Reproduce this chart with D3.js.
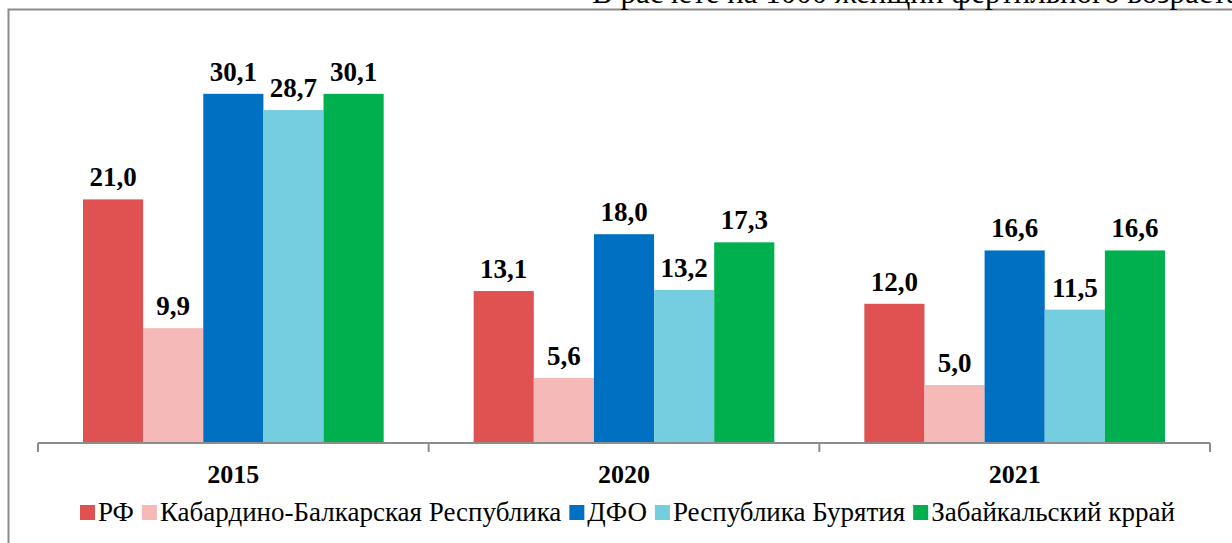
<!DOCTYPE html>
<html>
<head>
<meta charset="utf-8">
<script src="https://cdn.jsdelivr.net/npm/d3@7"></script>
<style>
body { margin: 0; background: #fff; }
text { font-family: 'Liberation Serif', 'Times New Roman', 'DejaVu Serif', serif; fill: #000; }
</style>
</head>
<body>
<div id="chart"></div>
<script>
var years = ['2015', '2020', '2021'];
var seriesNames = ['РФ', 'Кабардино-Балкарская Республика', 'ДФО', 'Республика Бурятия', 'Забайкальский кррай'];
var seriesColors = ['#E05252', '#F5B9B8', '#0070C3', '#74CEE0', '#00B04F'];
var rf = [21.0, 13.1, 12.0];
var kbr = [9.9, 5.6, 5.0];
var dfo = [30.1, 18.0, 16.6];
var buryatia = [28.7, 13.2, 11.5];
var zabaikal = [30.1, 17.3, 16.6];
var values = [rf, kbr, dfo, buryatia, zabaikal];
var title = 'В расчете на 1000 женщин фертильного возраста';

var width = 1232;
var height = 543;
var axisY = 443;
var left = 38, right = 1210;

var svg = d3.select('#chart').append('svg')
	.attr('width', width)
	.attr('height', height);

// frame
svg.append('path')
	.attr('d', 'M8.5,' + height + 'V9.5H' + width)
	.style('fill', 'none')
	.style('stroke', '#8c8c8c')
	.style('stroke-width', 2);

// title (cut off at the top, as in the source)
svg.append('text')
	.attr('x', 592)
	.attr('y', 3)
	.style('font-size', '31px')
	.text(title);

var x0 = d3.scaleBand().domain(years).range([left, right]);
var x1 = d3.scaleBand().domain(seriesNames).range([45, x0.bandwidth() - 45]);
var y = d3.scaleLinear().domain([0, 35]).range([axisY, axisY - 35 * 11.6]);

for (var s in values) {
	s = parseInt(s);
	var g = svg.append('g');
	g.selectAll('rect').data(values[s]).enter().append('rect')
		.attr('x', function(d, i) { return x0(years[i]) + x1(seriesNames[s]); })
		.attr('y', function(d) { return y(d); })
		.attr('width', x1.bandwidth())
		.attr('height', function(d) { return axisY - y(d); })
		.style('fill', seriesColors[s]);
	g.selectAll('text').data(values[s]).enter().append('text')
		.attr('x', function(d, i) { return x0(years[i]) + x1(seriesNames[s]) + x1.bandwidth() / 2; })
		.attr('y', function(d) { return y(d) - 13; })
		.attr('text-anchor', 'middle')
		.style('font-size', '27px')
		.style('font-weight', 'bold')
		.text(function(d) { return d.toFixed(1).replace('.', ','); });
}

// axis
var ax = svg.append('g').attr('transform', 'translate(0,' + axisY + ')')
	.call(d3.axisBottom(x0).tickSize(0).tickPadding(0));
ax.select('.domain').remove();
ax.selectAll('.tick').remove();
ax.append('line')
	.attr('x1', left).attr('x2', right)
	.style('stroke', '#8c8c8c').style('stroke-width', 2);
var tickXs = years.map(function(d) { return x0(d); }).concat([right]);
ax.selectAll('.tk').data(tickXs).enter().append('line')
	.attr('x1', function(d) { return d; }).attr('x2', function(d) { return d; })
	.attr('y1', 0).attr('y2', 9)
	.style('stroke', '#8c8c8c').style('stroke-width', 2);
ax.selectAll('.lbl').data(years).enter().append('text')
	.attr('x', function(d) { return x0(d) + x0.bandwidth() / 2; })
	.attr('y', 40)
	.attr('text-anchor', 'middle')
	.style('font-size', '26px')
	.style('font-weight', 'bold')
	.text(function(d) { return d; });

// legend
var legend = svg.append('g').attr('transform', 'translate(80,521)');
var lx = 0;
for (var k in seriesNames) {
	var item = legend.append('g').attr('transform', 'translate(' + lx + ',0)');
	item.append('rect')
		.attr('x', 0).attr('y', -16)
		.attr('width', 15).attr('height', 15)
		.style('fill', seriesColors[k]);
	var t = item.append('text')
		.attr('x', 18).attr('y', 0)
		.style('font-size', '27px')
		.text(seriesNames[k]);
	lx += 18 + t.node().getComputedTextLength() + 8;
}
</script>
</body>
</html>
